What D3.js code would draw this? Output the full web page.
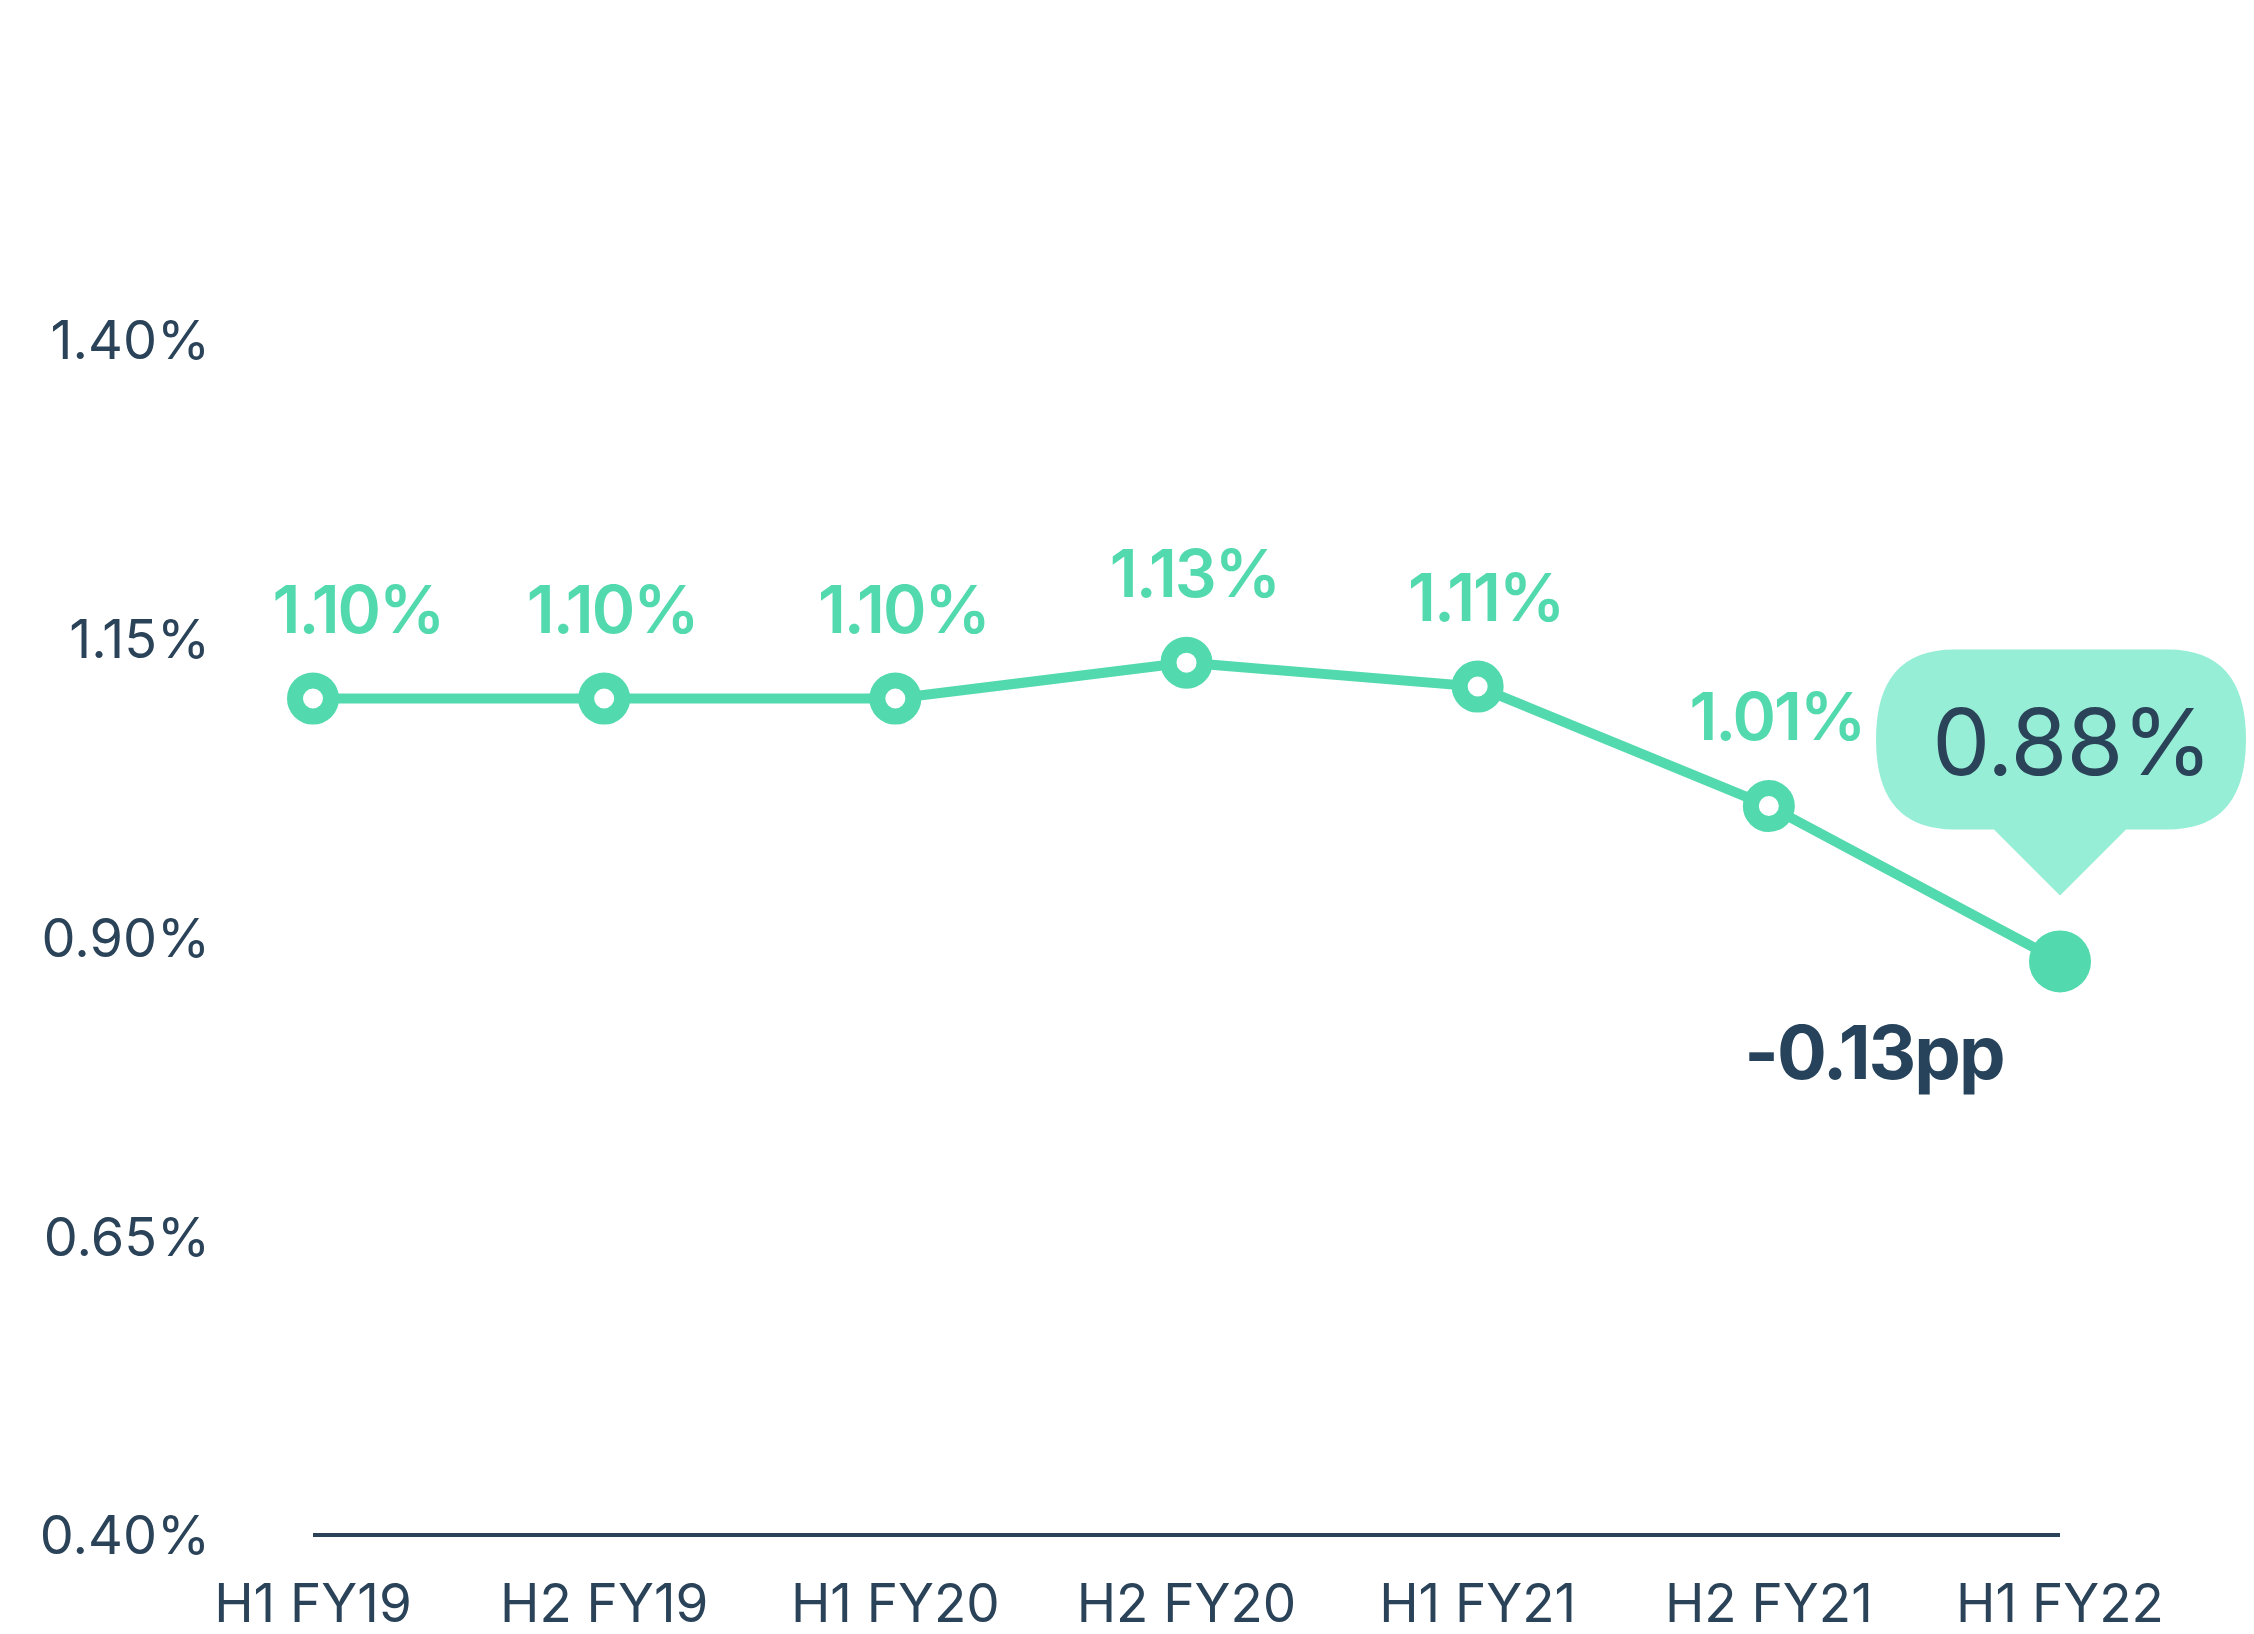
<!DOCTYPE html>
<html>
<head>
<meta charset="utf-8">
<script src="https://cdn.jsdelivr.net/npm/d3@7"></script>
<style>
  body { margin: 0; background: #fff; }
  text { font-family: Inter, "Noto Sans", sans-serif; }
</style>
</head>
<body>
<script>
// half-year periods and the rate for each
var periods = ["H1 FY19", "H2 FY19", "H1 FY20", "H2 FY20", "H1 FY21", "H2 FY21", "H1 FY22"];
var rates = [1.10, 1.10, 1.10, 1.13, 1.11, 1.01, 0.88];
var yTicks = [0.40, 0.65, 0.90, 1.15, 1.40];
var changeLabel = "-0.13pp";

var green = "#52d9ad";
var mint = "#95eed5";
var dark = "#2b4359";

var width = 2254, height = 1634;

var svg = d3.select("body").append("svg")
            .attr("width", width)
            .attr("height", height);

var x = d3.scalePoint().domain(periods).range([313, 2060]);
var y = d3.scaleLinear().domain([0.40, 1.40]).range([1535, 340]);

var data = periods.map(function(p, i) { return {period: p, rate: rates[i]}; });

// y tick labels
svg.append("g").selectAll("text")
   .data(yTicks)
   .enter().append("text")
   .attr("x", 210)
   .attr("y", function(d) { return y(d); })
   .attr("dy", "0.36em")
   .attr("text-anchor", "end")
   .attr("fill", dark)
   .attr("font-size", 54)
   .attr("font-weight", 400)
   .text(function(d) { return d.toFixed(2) + "%"; });

// baseline
svg.append("line")
   .attr("x1", x(periods[0]))
   .attr("x2", x(periods[periods.length - 1]))
   .attr("y1", y(0.40))
   .attr("y2", y(0.40))
   .attr("stroke", dark)
   .attr("stroke-width", 4);

// x labels
svg.append("g").selectAll("text")
   .data(periods)
   .enter().append("text")
   .attr("x", function(d) { return x(d); })
   .attr("y", 1622)
   .attr("text-anchor", "middle")
   .attr("fill", dark)
   .attr("font-size", 53)
   .text(function(d) { return d; });

// the line
var line = d3.line()
             .x(function(d) { return x(d.period); })
             .y(function(d) { return y(d.rate); });

svg.append("path")
   .datum(data)
   .attr("d", line)
   .attr("fill", "none")
   .attr("stroke", green)
   .attr("stroke-width", 10);

var open = data.slice(0, data.length - 1);
var last = data[data.length - 1];

// open markers
svg.append("g").selectAll("circle")
   .data(open)
   .enter().append("circle")
   .attr("cx", function(d) { return x(d.period); })
   .attr("cy", function(d) { return y(d.rate); })
   .attr("r", 18)
   .attr("fill", "#fff")
   .attr("stroke", green)
   .attr("stroke-width", 16);

// value labels
svg.append("g").selectAll("text")
   .data(open)
   .enter().append("text")
   .attr("x", function(d, i) { return x(d.period) + (i == 0 ? 45 : 8); })
   .attr("y", function(d) { return y(d.rate) - 66; })
   .attr("text-anchor", "middle")
   .attr("fill", green)
   .attr("font-size", 66)
   .attr("font-weight", 600)
   .attr("letter-spacing", -2)
   .text(function(d) { return d.rate.toFixed(2) + "%"; });

// last point
var lx = x(last.period), ly = y(last.rate);

svg.append("circle")
   .attr("cx", lx)
   .attr("cy", ly)
   .attr("r", 31)
   .attr("fill", green);

// callout bubble
var bl = lx - 184, br = lx + 186, bt = ly - 312, bb = ly - 132, rr = 78;
var p = d3.path();
p.moveTo(bl + rr, bt);
p.lineTo(br - rr, bt);
p.quadraticCurveTo(br, bt, br, bt + (bb - bt) / 2);
p.quadraticCurveTo(br, bb, br - rr, bb);
p.lineTo(lx + 66, bb);
p.lineTo(lx, ly - 66);
p.lineTo(lx - 66, bb);
p.lineTo(bl + rr, bb);
p.quadraticCurveTo(bl, bb, bl, bt + (bb - bt) / 2);
p.quadraticCurveTo(bl, bt, bl + rr, bt);
p.closePath();

svg.append("path")
   .attr("d", p.toString())
   .attr("fill", mint);

svg.append("text")
   .attr("x", lx + 12)
   .attr("y", bb - 54)
   .attr("text-anchor", "middle")
   .attr("fill", dark)
   .attr("font-size", 92)
   .attr("letter-spacing", -1)
   .text(last.rate.toFixed(2) + "%");

// change annotation
svg.append("text")
   .attr("x", lx - 186)
   .attr("y", ly + 118)
   .attr("text-anchor", "middle")
   .attr("fill", "#26435b")
   .attr("font-size", 74)
   .attr("font-weight", 700)
   .attr("letter-spacing", -2)
   .text(changeLabel);
</script>
</body>
</html>
